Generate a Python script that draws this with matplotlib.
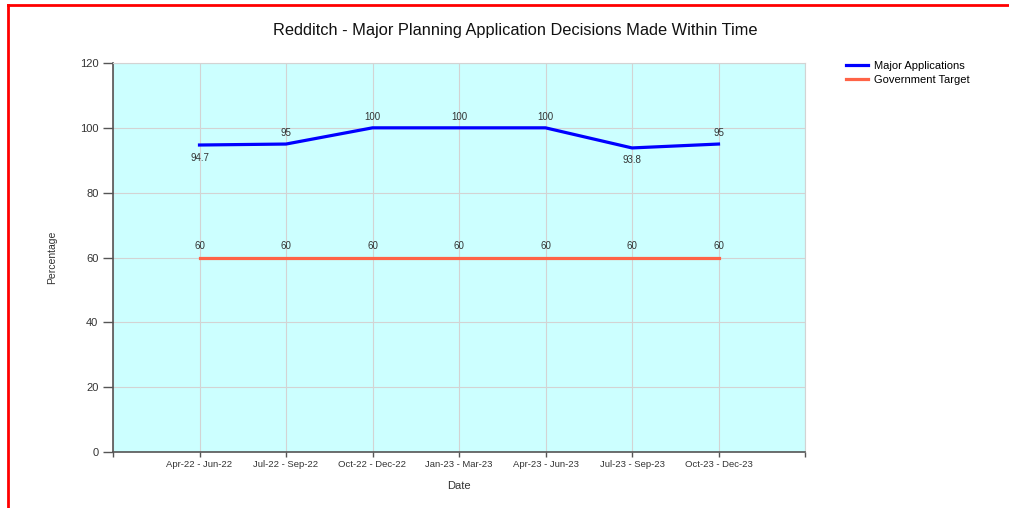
import matplotlib.pyplot as plt
from matplotlib.lines import Line2D

periods = ['Apr-22 - Jun-22', 'Jul-22 - Sep-22', 'Oct-22 - Dec-22', 'Jan-23 - Mar-23',
           'Apr-23 - Jun-23', 'Jul-23 - Sep-23', 'Oct-23 - Dec-23']
major = [94.7, 95, 100, 100, 100, 93.8, 95]
target = [60, 60, 60, 60, 60, 60, 60]
y_ticks = [0, 20, 40, 60, 80, 100, 120]

W, H = 1009, 508
fig = plt.figure(figsize=(W / 100, H / 100), dpi=100)
plt.rcParams['font.family'] = ['Liberation Sans', 'DejaVu Sans']

ax = fig.add_axes([113 / W, 1 - 452 / H, (805 - 113) / W, (452 - 63) / H])
ax.set_facecolor('#ccffff')

x = list(range(len(periods)))
ax.plot(x, major, color='#0000ff', lw=2.3, label='Major Applications', zorder=3)
ax.plot(x, target, color='#ff6347', lw=2.3, label='Government Target', zorder=3)

# data labels: below for dips, above otherwise
for i, v in enumerate(major):
    below = v < 95
    ax.annotate(f'{v:g}', (i, v), xytext=(0, -9 if below else 8), textcoords='offset points',
                ha='center', va='center', fontsize=7, color='#333333')
for i, v in enumerate(target):
    ax.annotate(f'{v:g}', (i, v), xytext=(0, 8), textcoords='offset points',
                ha='center', va='center', fontsize=7, color='#333333')

ax.set_xlim(-1, len(periods))
ax.set_ylim(0, 120)
ax.set_xticks([-1] + x + [len(periods)])
ax.set_xticklabels([''] + periods + [''], fontsize=6.8, color='#333333')
ax.set_yticks(y_ticks)
ax.set_yticklabels([str(t) for t in y_ticks], fontsize=8, color='#333333')
ax.tick_params(axis='y', direction='out', length=7, width=1, color='#555555')
ax.tick_params(axis='x', direction='out', length=3.5, width=1, color='#555555', pad=2)
ax.grid(True, color='#d3d3d3', lw=0.8)
ax.set_axisbelow(True)
for s in ['left', 'bottom']:
    ax.spines[s].set_color('#555555')
    ax.spines[s].set_linewidth(1.2)
for s in ['top', 'right']:
    ax.spines[s].set_color('#d3d3d3')

ax.set_xlabel('Date', fontsize=8, color='#333333', labelpad=9)
ax.set_ylabel('Percentage', fontsize=7.5, color='#333333', labelpad=16)

fig.text(515 / W, 1 - 31 / H, 'Redditch - Major Planning Application Decisions Made Within Time',
         ha='center', va='center', fontsize=11.8, color='#111111')

ax.legend(loc='upper left', bbox_to_anchor=(846 / W, 1 - 61 / H), bbox_transform=fig.transFigure,
          frameon=False, fontsize=8, handlelength=2.0, handletextpad=0.5,
          labelspacing=0.35, borderaxespad=0, borderpad=0)

# red frame (left and top edges visible in the screenshot)
fig.add_artist(Line2D([8 / W, 8 / W], [0, 1 - 5 / H], color='#ff0000', lw=2, transform=fig.transFigure))
fig.add_artist(Line2D([8 / W, 1], [1 - 5 / H, 1 - 5 / H], color='#ff0000', lw=2, transform=fig.transFigure))

fig.savefig('out.png', dpi=100)
